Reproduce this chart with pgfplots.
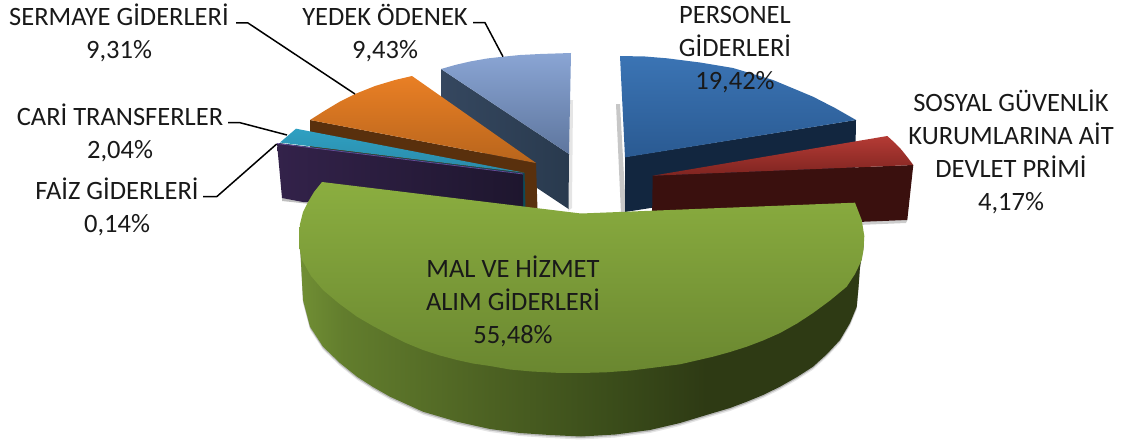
\documentclass[border=0pt]{standalone}
\usepackage{fontspec}
\setmainfont{Carlito}
\usepackage{pgfplots}
\usepackage{pgfplotstable}
\pgfplotsset{compat=1.18}

% top faces
\definecolor{grnT}{HTML}{8BAE40}
\definecolor{grnB}{HTML}{6A8730}
\definecolor{bluT}{HTML}{3B74B4}
\definecolor{bluB}{HTML}{2A5A92}
\definecolor{redT}{HTML}{B53B35}
\definecolor{redB}{HTML}{7E2420}
\definecolor{orgT}{HTML}{E97F25}
\definecolor{orgB}{HTML}{B8651C}
\definecolor{yedT}{HTML}{8AA5D4}
\definecolor{yedB}{HTML}{5E769E}
\definecolor{teaT}{HTML}{2FA0C2}
\definecolor{teaB}{HTML}{2A8AA8}
% side faces
\definecolor{bluS}{HTML}{12263F}
\definecolor{redS}{HTML}{3A100E}
\definecolor{orgS}{HTML}{59300D}
\definecolor{teaS}{HTML}{0E4A58}
\definecolor{purL}{HTML}{33224A}
\definecolor{purR}{HTML}{1E162E}
\definecolor{purE}{HTML}{6A4A9A}
\definecolor{yedL}{HTML}{35475F}
\definecolor{yedR}{HTML}{293A4E}
\definecolor{gs1}{HTML}{718F34}
\definecolor{gs2}{HTML}{627D2D}
\definecolor{gs3}{HTML}{4C6122}
\definecolor{gs4}{HTML}{3A4C1A}
\definecolor{gs5}{HTML}{2E3A14}

\pgfdeclarehorizontalshading{greenside}{100bp}{
  color(0bp)=(gs1); color(25bp)=(gs1); color(29bp)=(gs2); color(42bp)=(gs3);
  color(53bp)=(gs4); color(61bp)=(gs5); color(100bp)=(gs5)}

\tikzset{
  lab/.style={font=\fontsize{26.5}{33}\selectfont, align=center, text=black!90, inner sep=0pt},
  leader/.style={draw=black, line width=1.5pt, fill=none},
}

\pgfplotstableread{
x y
864 243
860 266.7
858.5 287
856.7 306.7
850 323
840 340
827 354
813 366.7
797 377
780 386.7
763 395
746.7 401.7
730 408
713 413
680 423
650 430
615 434.5
581 436.5
550 435
520 433
490 429
457 421.7
423 411.7
390 396.7
373 387
357 376.7
340 363
323 346.7
310 326.7
303 300
300.7 256.7
299 236
581 233
}\greenside

\pgfplotstableread{
x y
322 182
314 192
308 202
303 212
300 224
299 236
299.5 248
302 260
311 276
323 290
339 303.5
357 316.7
373 326
390 335
406 343
423 350
440 355.5
457 360
473 363.5
490 366
510 369.5
532 371.5
557 372.8
581 373
606 372.3
631 370.5
655 367.5
680 364.3
713 356.7
730 352
746.7 346.7
763 340.5
780 333
797 323.5
813 313
830 300.5
846.7 286.7
855 274
861.7 260
863.5 250
864.3 236
861.7 220
855 202.7
581 213.5
}\greentop

\begin{document}
\begin{tikzpicture}
\path[use as bounding box] (0,0) rectangle (1124pt,444pt);
\begin{axis}[
    at={(0,0)}, anchor=south west,
    scale only axis, width=1124pt, height=444pt,
    xmin=0, xmax=1124, ymin=0, ymax=444,
    y dir=reverse,
    hide axis, clip=false,
    every axis plot/.append style={no marks, draw=none},
]
% soft shadows
\addplot[fill=black, opacity=.10] coordinates {(570,100) (573,100) (572,208) (568,211)};
\addplot[fill=black, opacity=.22] coordinates {(616,104) (620,104) (626,212) (621,214)};
\addplot[fill=black, opacity=.25] coordinates {(282,197) (320,202) (320,205) (282,201)};

% YEDEK ODENEK
\addplot[left color=yedL, right color=yedR] coordinates {(441,69) (569,154) (568.5,209) (441,124)};
\addplot[top color=yedT, bottom color=yedB] coordinates {
    (441,69) (455,65) (470,61.5) (487,58.5) (503,56.7) (520,55) (540,54) (571,53) (569,154)};

% SERMAYE GIDERLERI
\addplot[fill=orgS] coordinates {(310,120) (536,163) (537.5,210) (310,165)};
\addplot[top color=orgT, bottom color=orgB] coordinates {
    (310,120) (325,110.5) (340,101.5) (355,94) (375,86) (395,80) (412,76) (536,163)};

% CARI TRANSFERLER
\addplot[fill=teaS] coordinates {(279,143) (524.5,173) (525.5,208) (522,208) (522,176) (279,145)};
\addplot[top color=teaT, bottom color=teaB] coordinates {(280,142.5) (296,128.7) (524.3,172.7)};

% FAIZ GIDERLERI
\addplot[left color=purL, right color=purR] coordinates {(277,143.5) (523,174) (523,208) (303,202) (282,198)};
\addplot[draw=purE, line width=.7pt, fill=none] coordinates {(277,143.5) (523,174)};

% PERSONEL GIDERLERI
\addplot[fill=bluS] coordinates {(625,157) (856,120) (855,176) (625,212)};
\addplot[top color=bluT, bottom color=bluB] coordinates {
    (620,56) (645,56.5) (667,58.3) (700,62.5) (733,68) (773,80) (813,96.7) (835,108) (856,120) (625,157.3)};

% SOSYAL GUVENLIK
\addplot[fill=redS] coordinates {(652.7,175.7) (913.3,165) (907.3,220) (858,222) (652,222)};
\addplot[top color=redT, bottom color=redB] coordinates {
    (652.7,175.7) (887.3,136) (895,143) (901.7,150) (908,158) (913.3,165)};
\addplot[fill=black, opacity=.2] coordinates {(858,222) (907.3,220) (906,223) (858,225)};

% MAL VE HIZMET
\addplot[fill=black, opacity=.10, yshift=-3pt] table[x=x,y=y] {\greenside};
\addplot[fill=black, opacity=.20, yshift=-1.5pt] table[x=x,y=y] {\greenside};
\addplot[shading=greenside] table[x=x,y=y] {\greenside};
\addplot[top color=grnT, bottom color=grnB] table[x=x,y=y] {\greentop};

% leader lines
\addplot[leader] coordinates {(236,23) (248,23) (355,94)};
\addplot[leader] coordinates {(228,122.7) (240,122.7) (287,135)};
\addplot[leader] coordinates {(203,196.7) (216.7,196.7) (276.7,144)};
\addplot[leader] coordinates {(473,22.7) (485,22.7) (503,56.7)};

% labels
\node[lab] at (axis cs:119,33) {SERMAYE GİDERLERİ\\9,31\%};
\node[lab] at (axis cs:120,132.5) {CARİ TRANSFERLER\\2,04\%};
\node[lab] at (axis cs:117,206.5) {FAİZ GİDERLERİ\\0,14\%};
\node[lab] at (axis cs:385,33) {YEDEK ÖDENEK\\9,43\%};
\node[lab] at (axis cs:735,49.5) {PERSONEL\\GİDERLERİ\\19,42\%};
\node[lab] at (axis cs:1011,151.5) {SOSYAL GÜVENLİK\\KURUMLARINA AİT\\DEVLET PRİMİ\\4,17\%};
\node[lab] at (axis cs:513,301) {MAL VE HİZMET\\ALIM GİDERLERİ\\55,48\%};
\end{axis}
\end{tikzpicture}
\end{document}
